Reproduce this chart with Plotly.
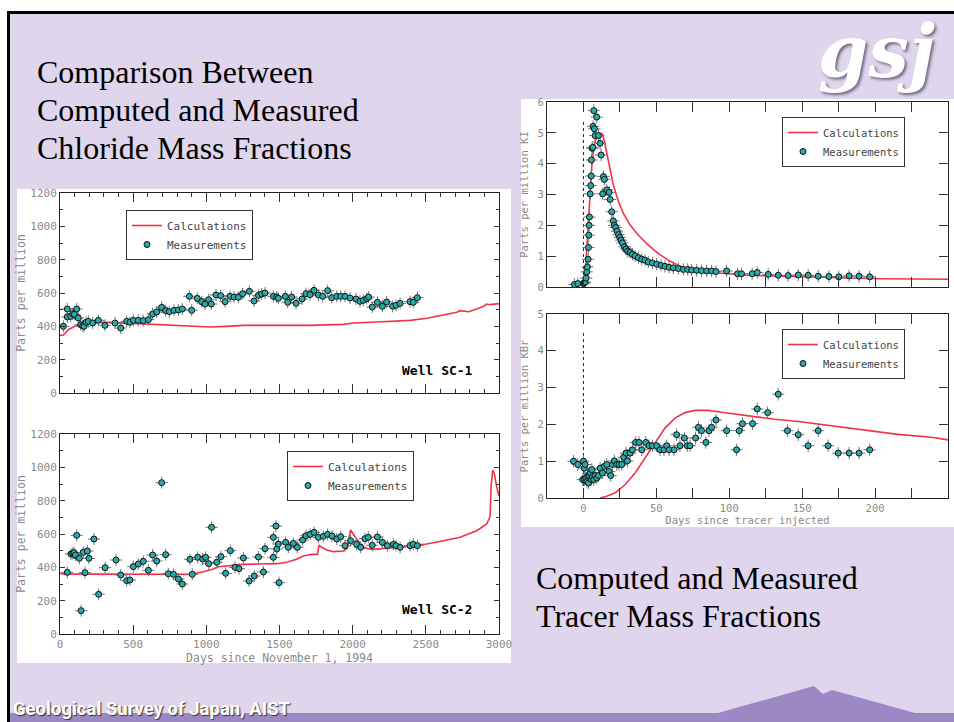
import plotly.graph_objects as go

# ---------------- data ----------------
# Well SC-1 chloride (days since Nov 1, 1994 ; ppm)
sc1_meas_days = [23, 50, 50, 73, 87, 98, 114, 125, 141, 155, 164, 178, 194, 223, 262, 307, 376, 415,
                 456, 478, 501, 535, 569, 604, 633, 661, 695, 722, 747, 779, 809, 836, 884, 900, 938,
                 968, 991, 1016, 1034, 1066, 1098, 1128, 1162, 1189, 1219, 1248, 1294, 1326, 1356,
                 1378, 1401, 1458, 1481, 1492, 1540, 1556, 1583, 1613, 1654, 1681, 1709, 1736, 1766,
                 1795, 1829, 1857, 1891, 1918, 1948, 1982, 2023, 2050, 2073, 2096, 2109, 2134, 2169,
                 2203, 2232, 2273, 2296, 2324, 2392, 2414, 2442]
sc1_meas_ppm = [400, 504, 456, 460, 476, 472, 504, 450, 410, 404, 400, 424, 430, 420, 436, 406, 420, 390,
                430, 424, 436, 436, 434, 440, 474, 486, 514, 494, 488, 496, 498, 504, 580, 496, 568,
                548, 534, 560, 534, 588, 584, 548, 580, 576, 574, 596, 610, 552, 586,
                594, 600, 580, 576, 568, 580, 544, 576, 538, 564, 596, 590, 616, 588,
                580, 614, 572, 580, 580, 580, 570, 564, 550, 556, 566, 576, 516, 544,
                520, 546, 520, 526, 538, 548, 544, 572]
sc1_calc_days = [0, 23, 57, 102, 159, 251, 342, 456, 569, 683, 797, 911, 1025, 1139, 1253, 1481, 1709,
                 1936, 2005, 2164, 2278, 2392, 2506, 2620, 2711, 2734, 2791, 2848, 2893, 2916, 2939, 3000]
sc1_calc_ppm = [346, 348, 380, 400, 410, 424, 424, 420, 416, 410, 406, 400, 396, 400, 406, 406, 406,
                412, 420, 426, 430, 436, 448, 470, 484, 494, 488, 504, 520, 534, 530, 536]

# Well SC-2 chloride
sc2_meas_days = [50, 75, 87, 96, 105, 114, 132, 144, 159, 171, 187, 198, 232, 264, 308, 383, 415, 456,
                 478, 501, 535, 569, 604, 633, 661, 695, 722, 740, 775, 809, 836, 888, 904, 941, 975,
                 995, 1016, 1036, 1071, 1100, 1132, 1164, 1196, 1223, 1253, 1292, 1328, 1356, 1390,
                 1401, 1458, 1458, 1476, 1481, 1492, 1497, 1542, 1560, 1595, 1622, 1658, 1681, 1709,
                 1736, 1766, 1800, 1829, 1859, 1891, 1918, 1948, 1986, 2027, 2055, 2084, 2107, 2134,
                 2169, 2203, 2237, 2278, 2296, 2324, 2392, 2414, 2442]
sc2_meas_ppm = [370, 480, 484, 488, 474, 592, 454, 140, 490, 368, 498, 454, 570, 238, 398, 444, 354, 320,
                324, 404, 420, 436, 382, 474, 438, 908, 476, 362, 358, 330, 300, 448, 358, 460, 450,
                460, 422, 640, 430, 464, 364, 500, 400, 392, 456, 318, 348, 462, 372,
                512, 580, 460, 648, 510, 540, 308, 550, 520, 544, 520, 564, 590, 598,
                610, 580, 586, 598, 588, 570, 584, 530, 560, 538, 520, 572, 580, 532,
                582, 550, 530, 538, 530, 520, 530, 538, 530]
sc2_calc_days = [0, 46, 114, 342, 569, 797, 888, 980, 1048, 1082, 1162, 1253, 1367, 1481, 1549, 1617,
                 1663, 1720, 1759, 1771, 1788, 1822, 1868, 1936, 1963, 1986, 2016, 2050, 2084, 2141,
                 2278, 2392, 2506, 2620, 2734, 2848, 2916, 2939, 2946, 2957, 2968, 2984, 3000]
sc2_calc_ppm = [364, 358, 360, 360, 360, 360, 358, 374, 390, 404, 410, 418, 420, 422, 430, 448,
                468, 478, 478, 534, 520, 504, 494, 498, 514, 624, 584, 544, 514, 508,
                518, 528, 540, 560, 580, 620, 660, 704, 884, 984, 964, 884, 828]

# KI tracer (days since tracer injected ; ppm KI)
ki_meas_days = [-6.2, -3.9, 0, 0.5, 1.1, 1.8, 2.3, 2.7, 3.2, 3.4, 3.7, 3.9, 4.1, 4.6, 5.0, 5.3, 5.5, 5.9,
                6.4, 6.6, 7.1, 7.5, 8.0, 9.1, 10.3, 11.4, 12.1, 13.7, 14.4, 13.2, 16.0, 17.6, 18.3,
                19.4, 20.5, 21.2, 22.1, 23.1, 24.0, 24.9, 25.8, 26.7, 28.1, 29.2, 30.4, 32.0, 33.6,
                35.4, 37.7, 40.0, 42.2, 44.5, 47.3, 50.2, 53.2, 55.9, 58.7, 61.6, 65.1, 68.5, 71.5,
                74.2, 77.6, 81.0, 84.5, 87.9, 90.9, 98.2, 105.7, 108.4, 115.7, 119.2, 126.7, 133.6,
                140.4, 147.3, 154.1, 161.0, 168.3, 175.1, 182.2, 189.0, 196.3]
ki_meas_ppm = [0.08, 0.11, 0.11, 0.14, 0.16, 0.29, 0.49, 0.65, 0.90, 1.28, 1.68, 2.00, 2.27, 3.02, 3.29,
               3.60, 4.12, 4.50, 4.53, 5.21, 5.72, 5.13, 4.91, 5.51, 4.91, 4.66, 4.28, 3.58, 3.49, 3.02,
               3.15, 3.07, 2.84, 2.44, 2.14, 2.00, 1.93, 1.81, 1.70, 1.61, 1.52, 1.43, 1.30, 1.23,
               1.16, 1.12, 1.06, 1.01, 0.95, 0.90, 0.87, 0.81, 0.78, 0.74, 0.70, 0.67, 0.64, 0.62,
               0.60, 0.57, 0.57, 0.55, 0.54, 0.53, 0.52, 0.52, 0.50, 0.52, 0.43, 0.43, 0.43, 0.47,
               0.41, 0.38, 0.37, 0.39, 0.38, 0.35, 0.34, 0.33, 0.36, 0.35, 0.33]
ki_calc_days = [0, 1.1, 2.3, 3.4, 4.6, 5.7, 6.8, 8.0, 9.8, 11.4, 13.0, 14.4, 16.0, 18.3, 20.5, 24.0,
                27.4, 32.0, 37.7, 44.5, 51.4, 58.2, 65.1, 71.9, 81.0, 90.2, 113.0, 135.8, 158.6,
                181.5, 204.3, 227.2, 250]
ki_calc_ppm = [0, 0.33, 1.25, 2.11, 3.09, 3.90, 4.39, 4.72, 4.96, 4.99, 4.96, 4.72, 4.34, 3.80, 3.31,
               2.77, 2.39, 2.01, 1.68, 1.36, 1.08, 0.87, 0.70, 0.60, 0.51, 0.46, 0.38, 0.35, 0.31,
               0.29, 0.27, 0.26, 0.25]

# KBr tracer
kbr_meas_days = [-6.8, -3.9, 0, 0.5, 1.1, -0.5, 0.7, 1.6, 2.3, 3.0, 3.4, 3.9, 4.6, 5.3, 5.7, 6.2, 7.1,
                 8.0, 9.1, 10.3, 11.4, 13.0, 14.4, 16.0, 17.6, 18.7, 19.9, 21.2, 22.8, 24.4, 26.3,
                 27.6, 29.2, 30.1, 32.0, 33.6, 35.8, 38.1, 40.0, 42.7, 45.0, 47.3, 50.2, 52.5, 55.2,
                 57.1, 58.7, 62.1, 63.9, 66.2, 69.2, 71.2, 73.1, 76.9, 78.8, 81.0, 84.0, 86.1, 87.9,
                 90.9, 98.2, 105.0, 106.8, 109.1, 116.0, 119.2, 126.3, 133.6, 139.9, 147.3, 154.1,
                 161.0, 167.8, 174.7, 182.2, 189.0, 196.3]
kbr_meas_ppm = [1.00, 0.91, 1.00, 0.81, 0.91, 0.50, 0.50, 0.54, 0.45, 0.59, 0.41, 0.61, 0.68, 0.50, 0.77,
                0.57, 0.50, 0.61, 0.54, 0.61, 0.81, 0.68, 0.86, 0.91, 0.72, 0.61, 0.91, 1.01, 0.91,
                0.91, 0.91, 1.11, 1.22, 1.01, 1.22, 1.31, 1.51, 1.51, 1.31, 1.51, 1.42, 1.42, 1.42,
                1.31, 1.31, 1.42, 1.31, 1.31, 1.72, 1.42, 1.63, 1.42, 1.42, 1.63, 1.92, 1.83, 1.51,
                1.83, 1.92, 2.12, 1.83, 1.31, 1.83, 2.02, 2.02, 2.42, 2.32, 2.82, 1.83, 1.72, 1.42,
                1.83, 1.42, 1.22, 1.22, 1.22, 1.31]
kbr_calc_days = [11.4, 16.0, 21.7, 28.5, 35.4, 42.2, 49.1, 55.9, 62.8, 69.6, 76.5, 85.6, 94.7, 103.9,
                 113.0, 122.1, 131.3, 147.3, 170.1, 192.9, 215.7, 238.6, 250]
kbr_calc_ppm = [0, 0.05, 0.14, 0.36, 0.68, 1.08, 1.49, 1.90, 2.17, 2.32, 2.38, 2.38, 2.33, 2.28,
                2.22, 2.17, 2.14, 2.08, 1.96, 1.84, 1.73, 1.65, 1.58]

# tracer injection marker (day, height of dotted line in each tracer panel)
injection_day = 0
injection_line_top = [5.4, 4.5]

# ---------------- styling ----------------
W, H = 954, 722
LAVENDER = "#DFD5EC"
RED = "#F2314A"
TEAL = "#2AA9A9"
MONO = "DejaVu Sans Mono"
SERIF = "Liberation Serif, Times New Roman, serif"


def px(x):
    return x / W


def py(y):
    return 1 - y / H


fig = go.Figure()


def add_panel(xa, ya, mx, my, cx, cy, legend, ex, ey):
    fig.add_trace(go.Scatter(
        x=cx, y=cy, mode="lines", name="Calculations", legend=legend,
        line=dict(color=RED, width=1.6), xaxis=xa, yaxis=ya))
    fig.add_trace(go.Scatter(
        x=mx, y=my, mode="markers", name="Measurements", legend=legend,
        marker=dict(symbol="circle", size=6, color=TEAL, line=dict(color="#111", width=1)),
        error_x=dict(type="constant", value=ex, width=0, thickness=1, color="#777777"),
        error_y=dict(type="constant", value=ey, width=0, thickness=1, color="#777777"),
        xaxis=xa, yaxis=ya))


add_panel("x", "y", sc1_meas_days, sc1_meas_ppm, sc1_calc_days, sc1_calc_ppm, "legend", 42, 36)
add_panel("x2", "y2", sc2_meas_days, sc2_meas_ppm, sc2_calc_days, sc2_calc_ppm, "legend2", 42, 36)
add_panel("x3", "y3", ki_meas_days, ki_meas_ppm, ki_calc_days, ki_calc_ppm, "legend3", 4.2, 0.2)
add_panel("x4", "y4", kbr_meas_days, kbr_meas_ppm, kbr_calc_days, kbr_calc_ppm, "legend4", 4.2, 0.17)

tickfont = dict(family=MONO, size=11, color="#8c8c8c")
tickfont_r = dict(family=MONO, size=10.5, color="#8c8c8c")


def axis_common(font):
    return dict(showline=True, linecolor="#222", linewidth=1, mirror="allticks",
                ticks="inside", tickcolor="#333", showgrid=False, zeroline=False,
                tickfont=font, automargin=False, fixedrange=True)


# left (chloride) axes
for i, (xd, yd, show_x) in enumerate([((60, 499), (193, 393), False), ((60, 499), (434, 634), True)]):
    xs = "xaxis" if i == 0 else "xaxis2"
    ys = "yaxis" if i == 0 else "yaxis2"
    fig.update_layout({
        xs: dict(axis_common(tickfont), domain=[px(xd[0]), px(xd[1])], range=[0, 3000],
                 tick0=0, dtick=500, ticklen=9, showticklabels=show_x,
                 minor=dict(dtick=100, ticklen=4, ticks="inside", tickcolor="#333"),
                 anchor="y" if i == 0 else "y2",
                 title=dict(text="Days since November 1, 1994" if show_x else "",
                            font=dict(family=MONO, size=11.5, color="#8a8a8a"), standoff=2)),
        ys: dict(axis_common(tickfont), domain=[py(yd[1]), py(yd[0])], range=[0, 1200],
                 tick0=0, dtick=200, ticklen=5,
                 minor=dict(dtick=100, ticklen=3, ticks="inside", tickcolor="#333"),
                 anchor="x" if i == 0 else "x2",
                 title=dict(text="Parts per million",
                            font=dict(family=MONO, size=11.5, color="#8a8a8a"), standoff=2)),
    })

# right (tracer) axes
for i, (yd, ymax, ylab, show_x) in enumerate([((102, 287), 6, "Parts per million KI", False),
                                               ((314, 498), 5, "Parts per million KBr", True)]):
    xs = "xaxis3" if i == 0 else "xaxis4"
    ys = "yaxis3" if i == 0 else "yaxis4"
    fig.update_layout({
        xs: dict(axis_common(tickfont_r), domain=[px(547), px(948)], range=[-25, 250],
                 tick0=0, dtick=50, ticklen=10, showticklabels=show_x,
                 minor=dict(dtick=25, ticklen=10, ticks="inside", tickcolor="#333"),
                 anchor="y3" if i == 0 else "y4",
                 title=dict(text="Days since tracer injected" if show_x else "",
                            font=dict(family=MONO, size=10.5, color="#8a8a8a"), standoff=2)),
        ys: dict(axis_common(tickfont_r), domain=[py(yd[1]), py(yd[0])], range=[0, ymax],
                 tick0=0, dtick=1, ticklen=9,
                 anchor="x3" if i == 0 else "x4",
                 title=dict(text=ylab, font=dict(family=MONO, size=10.5, color="#8a8a8a"),
                            standoff=6)),
    })

# legends
leg_font = dict(family=MONO, size=11, color="#444")
leg_common = dict(bgcolor="white", bordercolor="#333", borderwidth=1, xanchor="left",
                  yanchor="top", tracegroupgap=0, itemclick=False, itemdoubleclick=False)
fig.update_layout(
    showlegend=True,
    legend=dict(leg_common, x=px(126), y=py(210), font=leg_font),
    legend2=dict(leg_common, x=px(287), y=py(451), font=leg_font),
    legend3=dict(leg_common, x=px(782), y=py(117), font=dict(leg_font, size=10.5)),
    legend4=dict(leg_common, x=px(782), y=py(329), font=dict(leg_font, size=10.5)),
)

shapes = []
# white strips outside the slide border
shapes.append(dict(type="rect", xref="paper", yref="paper", x0=0, x1=1, y0=py(11), y1=1,
                   fillcolor="white", line_width=0, layer="below"))
shapes.append(dict(type="rect", xref="paper", yref="paper", x0=0, x1=px(7), y0=0, y1=1,
                   fillcolor="white", line_width=0, layer="below"))
# slide border
shapes.append(dict(type="rect", xref="paper", yref="paper", x0=px(7), x1=px(10), y0=0, y1=py(11),
                   fillcolor="black", line_width=0, layer="below"))
shapes.append(dict(type="rect", xref="paper", yref="paper", x0=px(7), x1=1, y0=py(14), y1=py(11),
                   fillcolor="black", line_width=0, layer="below"))
# white panels behind the plots
shapes.append(dict(type="rect", xref="paper", yref="paper", x0=px(17), x1=px(511), y0=py(663),
                   y1=py(189), fillcolor="white", line_width=0, layer="below"))
shapes.append(dict(type="rect", xref="paper", yref="paper", x0=px(521), x1=1, y0=py(527),
                   y1=py(99), fillcolor="white", line_width=0, layer="below"))
# footer band and mountain
shapes.append(dict(type="rect", xref="paper", yref="paper", x0=px(10), x1=1, y0=0, y1=py(713),
                   fillcolor="#9C88C4", line_width=0, layer="below"))
mx = [718, 814, 823, 832, 915]
my = [713, 686, 694, 690, 713]
path = "M " + " L ".join(f"{px(a)},{py(b)}" for a, b in zip(mx, my)) + " Z"
shapes.append(dict(type="path", xref="paper", yref="paper", path=path,
                   fillcolor="#9C88C4", line_width=0, layer="below"))
# injection-day dotted lines
for xa, ya, top in [("x3", "y3", injection_line_top[0]), ("x4", "y4", injection_line_top[1])]:
    shapes.append(dict(type="line", xref=xa, yref=ya, x0=injection_day, x1=injection_day, y0=0,
                       y1=top, line=dict(color="#222", width=1, dash="dot"), layer="below"))

annotations = []
title_font = dict(family=SERIF, size=32, color="black")
for i, t in enumerate(["Comparison Between", "Computed and Measured", "Chloride Mass Fractions"]):
    annotations.append(dict(text=t, x=px(35), y=py(72 + 38 * i), xref="paper", yref="paper",
                            xanchor="left", yanchor="middle", showarrow=False, font=title_font))
for i, t in enumerate(["Computed and Measured", "Tracer Mass Fractions"]):
    annotations.append(dict(text=t, x=px(534), y=py(578 + 38 * i), xref="paper", yref="paper",
                            xanchor="left", yanchor="middle", showarrow=False, font=title_font))
well_font = dict(family=MONO, size=13, color="black", weight="bold")
annotations.append(dict(text="Well SC-1", x=px(437), y=py(370), xref="paper", yref="paper",
                        xanchor="center", yanchor="middle", showarrow=False, font=well_font))
annotations.append(dict(text="Well SC-2", x=px(437), y=py(609), xref="paper", yref="paper",
                        xanchor="center", yanchor="middle", showarrow=False, font=well_font))
annotations.append(dict(text="<b><i>gsj</i></b>", x=px(876), y=py(52), xref="paper", yref="paper",
                        xanchor="center", yanchor="middle", showarrow=False,
                        font=dict(family="DejaVu Serif", size=72, color="white",
                                  shadow="2px 2px 3px #6f6a80")))
annotations.append(dict(text="<b>Geological Survey of Japan, AIST</b>", x=px(11), y=py(709),
                        xref="paper", yref="paper", xanchor="left", yanchor="middle",
                        showarrow=False,
                        font=dict(family="Liberation Sans Narrow, Roboto, sans-serif", size=18.5,
                                  color="white", shadow="1px 1px 1px #333")))

fig.update_layout(width=W, height=H, margin=dict(l=0, r=0, t=0, b=0),
                  paper_bgcolor=LAVENDER, plot_bgcolor="white",
                  shapes=shapes, annotations=annotations)

fig.write_html("out.html", config={"displayModeBar": False})
